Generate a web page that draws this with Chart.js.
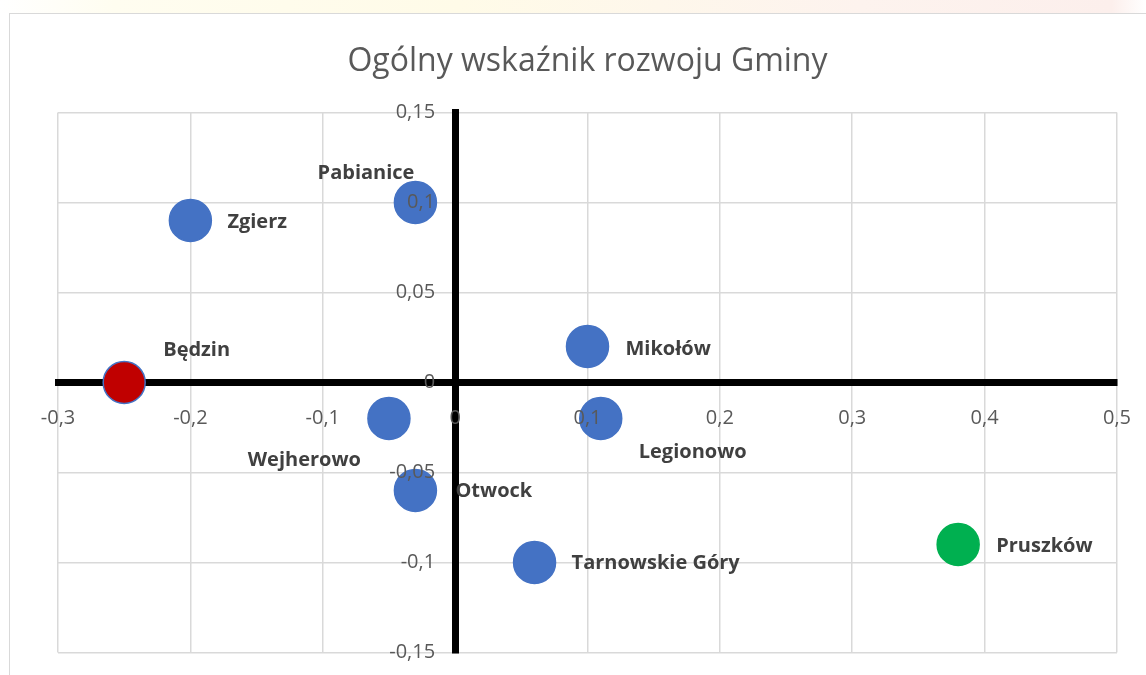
<!DOCTYPE html>
<html lang="pl">
<head>
<meta charset="utf-8">
<title>Ogólny wskaźnik rozwoju Gminy</title>
<script src="https://cdn.jsdelivr.net/npm/chart.js@4.4.1/dist/chart.umd.min.js"></script>
<style>
    html, body { margin: 0; padding: 0; background: #fff; }
    #wrap { position: relative; width: 1146px; height: 675px; overflow: hidden; }
    #topGlow {
        position: absolute; left: 0; top: 0; width: 1146px; height: 13px;
        background: linear-gradient(to right, #ffffff 0%, #fffdf0 10%, #fffbe8 40%, #fdf3ee 75%, #fcefec 97%, #ffffff 100%);
    }
    #frame {
        position: absolute; left: 9px; top: 13px; width: 1160px; height: 700px;
        border: 1px solid #d9d9d9; box-sizing: border-box;
    }
    canvas { position: absolute; left: 0; top: 0; }
</style>
</head>
<body>
<div id="wrap">
    <div id="topGlow"></div>
    <div id="frame"></div>
    <canvas id="gminyChart" width="1146" height="675"></canvas>
</div>
<script>
// Dane wykresu
const gminy = ["Będzin", "Zgierz", "Pabianice", "Mikołów", "Legionowo", "Wejherowo", "Otwock", "Tarnowskie Góry", "Pruszków"];
const xValues = [-0.25, -0.2, -0.03, 0.1, 0.11, -0.05, -0.03, 0.06, 0.38];
const yValues = [0, 0.09, 0.1, 0.02, -0.02, -0.02, -0.06, -0.1, -0.09];
const xTickValues = [-0.3, -0.2, -0.1, 0, 0.1, 0.2, 0.3, 0.4, 0.5];
const yTickValues = [-0.15, -0.1, -0.05, 0, 0.05, 0.1, 0.15];

// Kolory punktów i położenie etykiet (przesunięcie względem punktu)
const pointColors = ["#C00000", "#4472C4", "#4472C4", "#4472C4", "#4472C4", "#4472C4", "#4472C4", "#4472C4", "#00B050"];
const pointBorders = ["#4472C4", "#4472C4", "#4472C4", "#4472C4", "#4472C4", "#4472C4", "#4472C4", "#4472C4", "#00B050"];
const labelOffsets = [
    { dx: 39, dy: -32, align: "left" },
    { dx: 37, dy: 2, align: "left" },
    { dx: -1, dy: -29, align: "right" },
    { dx: 38, dy: 3, align: "left" },
    { dx: 38, dy: 34, align: "left" },
    { dx: -28, dy: 42, align: "right" },
    { dx: 40, dy: 1, align: "left" },
    { dx: 37, dy: 1, align: "left" },
    { dx: 38, dy: 2, align: "left" }
];

const points = xValues.map((x, i) => ({ x: x, y: yValues[i] }));

function formatTick(v) {
    return String(Math.round(v * 100) / 100).replace(".", ",");
}

// osie w środku wykresu nie powinny zabierać miejsca na marginesy
function noScalePadding(scale) {
    scale.paddingLeft = 0;
    scale.paddingRight = 0;
    scale.paddingTop = 0;
    scale.paddingBottom = 0;
}

const pointLabelsPlugin = {
    id: "pointLabels",
    afterDatasetsDraw(chart) {
        const ctx = chart.ctx;
        const meta = chart.getDatasetMeta(0);
        ctx.save();
        ctx.font = "bold 20px 'Open Sans'";
        ctx.fillStyle = "#404040";
        ctx.textBaseline = "middle";
        meta.data.forEach((el, i) => {
            const off = labelOffsets[i];
            ctx.textAlign = off.align;
            ctx.fillText(gminy[i], el.x + off.dx, el.y + off.dy);
        });
        ctx.restore();
    }
};

const tickFont = { family: "'Open Sans'", size: 20 };

new Chart(document.getElementById("gminyChart"), {
    type: "scatter",
    data: {
        datasets: [{
            label: "Gminy",
            data: points,
            backgroundColor: pointColors,
            borderColor: pointBorders,
            borderWidth: 1.5,
            pointRadius: 21,
            pointHoverRadius: 21
        }]
    },
    options: {
        responsive: false,
        animation: false,
        layout: { padding: { left: 58, right: 29, top: 0, bottom: 10 } },
        plugins: {
            legend: { display: false },
            tooltip: { enabled: false },
            title: {
                display: true,
                text: "Ogólny wskaźnik rozwoju Gminy",
                color: "#595959",
                font: { family: "'Open Sans'", size: 32, weight: "normal", lineHeight: 1.2 },
                padding: { top: 43, bottom: 31 }
            }
        },
        scales: {
            x: {
                type: "linear",
                min: -0.3,
                max: 0.5,
                position: { y: 0 },
                afterBuildTicks(scale) { scale.ticks = xTickValues.map(v => ({ value: v })); },
                afterFit: noScalePadding,
                grid: { color: "#d9d9d9", lineWidth: 1.5, drawTicks: false, z: -1 },
                border: { display: true, color: "#000000", width: 7, z: 0 },
                ticks: {
                    color: "#595959",
                    font: tickFont,
                    padding: 24,
                    z: 1,
                    callback: v => formatTick(v)
                }
            },
            y: {
                type: "linear",
                min: -0.15,
                max: 0.15,
                position: { x: 0 },
                afterBuildTicks(scale) { scale.ticks = yTickValues.map(v => ({ value: v })); },
                afterFit: noScalePadding,
                grid: { color: "#d9d9d9", lineWidth: 1.5, drawTicks: false, z: -1 },
                border: { display: true, color: "#000000", width: 7, z: 0 },
                ticks: {
                    color: "#595959",
                    font: tickFont,
                    z: 1,
                    // etykiety osi Y przy osi w środku nie mają odstępu, więc dokładamy spacje
                    callback: v => formatTick(v) + "\u2002\u2002"
                }
            }
        }
    },
    plugins: [pointLabelsPlugin]
});
</script>
</body>
</html>
